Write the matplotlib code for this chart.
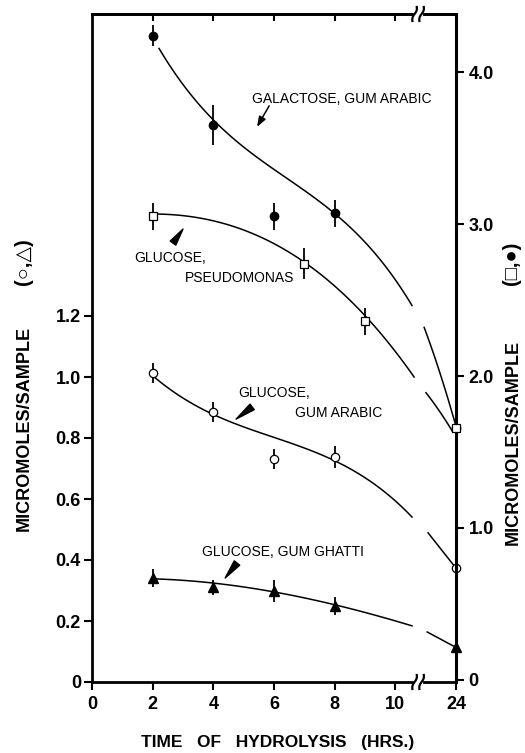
import numpy as np
import matplotlib
matplotlib.use("Agg")
import matplotlib.pyplot as plt
import matplotlib.transforms as mtrans
from matplotlib.lines import Line2D

plt.rcParams['font.family'] = ['Liberation Sans', 'DejaVu Sans']

# ---------------- data ----------------
# sampling times (hours); 24 h sits beyond the axis break
hours = [2, 4, 6, 8, 24]
pseudo_hours = [2, 7, 9, 24]

# right axis (squares, filled circles)
galactose_gum_arabic = [4.24, 3.65, 3.05, 3.07, 1.66]
galactose_err = [0.07, 0.13, 0.09, 0.09, 0.14]
glucose_pseudomonas = [3.05, 2.74, 2.36, 1.66]
pseudomonas_err = [0.09, 0.10, 0.09, 0.10]

# left axis (open circles, triangles)
glucose_gum_arabic = [1.013, 0.885, 0.731, 0.738, 0.374]
gum_arabic_err = [0.033, 0.033, 0.032, 0.036, 0.04]
glucose_gum_ghatti = [0.341, 0.311, 0.298, 0.249, 0.115]
gum_ghatti_err = [0.03, 0.025, 0.035, 0.03, 0.03]

# hand-drawn fitted curves (axis position, value);
# each curve is drawn in two pieces, interrupted near the axis break
gal_curve_a_x = [2.21, 3.1, 4.0, 5.3, 6.9, 8.1, 9.1, 10.55]
gal_curve_a_y = [4.16, 3.89, 3.67, 3.47, 3.24, 3.06, 2.84, 2.47]
gal_curve_b_x = [10.95, 11.47, 11.97]
gal_curve_b_y = [2.32, 2.02, 1.69]

pse_curve_a_x = [2.14, 3.33, 4.65, 6.86, 7.95, 9.07, 10.62]
pse_curve_a_y = [3.07, 3.04, 2.98, 2.78, 2.61, 2.36, 2.00]
pse_curve_b_x = [11.01, 11.45, 11.90]
pse_curve_b_y = [1.89, 1.77, 1.63]

ara_curve_a_x = [2.04, 3.99, 5.77, 7.95, 9.07, 10.55]
ara_curve_a_y = [1.00, 0.882, 0.803, 0.734, 0.662, 0.541]
ara_curve_b_x = [11.08, 11.97]
ara_curve_b_y = [0.489, 0.377]

gha_curve_a_x = [2.04, 3.99, 5.97, 8.08, 9.07, 10.55]
gha_curve_a_y = [0.338, 0.325, 0.295, 0.252, 0.226, 0.184]
gha_curve_b_x = [11.05, 11.97]
gha_curve_b_y = [0.164, 0.115]

x_tick_pos = [0, 2, 4, 6, 8, 10, 12]
x_tick_labels = ["0", "2", "4", "6", "8", "10", "24"]
left_ticks = [0, 0.2, 0.4, 0.6, 0.8, 1.0, 1.2]
left_tick_labels = ["0", "0.2", "0.4", "0.6", "0.8", "1.0", "1.2"]
right_ticks = [0, 1, 2, 3, 4]
right_tick_labels = ["0", "1.0", "2.0", "3.0", "4.0"]


def axis_pos(h):
    """Broken time axis: 0-10 h linear, 24 h placed at position 12."""
    return [v if v <= 10.8 else 12 for v in h]


def smooth(xs, ys, n=80):
    """Smooth drawn line through the read curve points (rendering only)."""
    xs = np.asarray(xs, float)
    ys = np.asarray(ys, float)
    deg = min(3, len(xs) - 1)
    c = np.polyfit(xs, ys, deg)
    xx = np.linspace(xs[0], xs[-1], n)
    return xx, np.polyval(c, xx)


# ---------------- figure ----------------
W, H = 525, 753
fig = plt.figure(figsize=(W / 100, H / 100), dpi=100)
ax = fig.add_axes([92 / W, 1 - 682 / H, (456 - 92) / W, (682 - 14) / H])
ax2 = ax.twinx()

ax.set_xlim(0, 12)
ax.set_ylim(0, 668 / 305)
ax2.set_ylim(-2 / 152, 666 / 152)

lw_curve = 1.1
for cx, cy in [(gal_curve_a_x, gal_curve_a_y), (gal_curve_b_x, gal_curve_b_y),
               (pse_curve_a_x, pse_curve_a_y), (pse_curve_b_x, pse_curve_b_y)]:
    sx, sy = smooth(cx, cy)
    ax2.plot(sx, sy, color='black', lw=lw_curve, clip_on=False)
for cx, cy in [(ara_curve_a_x, ara_curve_a_y), (ara_curve_b_x, ara_curve_b_y),
               (gha_curve_a_x, gha_curve_a_y), (gha_curve_b_x, gha_curve_b_y)]:
    sx, sy = smooth(cx, cy)
    ax.plot(sx, sy, color='black', lw=lw_curve, clip_on=False)

# points with error bars
eb = dict(ecolor='black', elinewidth=1.3, capsize=0, ls='none', clip_on=False)
ax2.errorbar(axis_pos(hours), galactose_gum_arabic, yerr=galactose_err,
             fmt='o', mfc='black', mec='black', ms=6, zorder=5, **eb)
ax2.errorbar(axis_pos(pseudo_hours), glucose_pseudomonas, yerr=pseudomonas_err,
             fmt='s', mfc='white', mec='black', mew=0.9, ms=5.5, zorder=5, **eb)
ax.errorbar(axis_pos(hours), glucose_gum_arabic, yerr=gum_arabic_err,
            fmt='o', mfc='white', mec='black', mew=0.9, ms=6, zorder=5, **eb)
ax.errorbar(axis_pos(hours), glucose_gum_ghatti, yerr=gum_ghatti_err,
            fmt='^', mfc='black', mec='black', ms=6.5, zorder=5, **eb)

# spines / ticks
for s in ['left', 'bottom', 'top']:
    ax.spines[s].set_linewidth(2.0)
ax.spines['right'].set_visible(False)
for s in ['left', 'bottom', 'top']:
    ax2.spines[s].set_visible(False)
ax2.spines['right'].set_linewidth(2.2)

tick_font = dict(size=13, weight='bold')
ax.set_xticks(x_tick_pos)
ax.set_xticklabels(x_tick_labels, fontdict=tick_font)
ax.set_yticks(left_ticks)
ax.set_yticklabels(left_tick_labels, fontdict=tick_font)
ax2.set_yticks(right_ticks)
ax2.set_yticklabels(right_tick_labels, fontdict=tick_font)
ax.tick_params(axis='x', direction='out', length=6, width=1.5, pad=4)
ax.tick_params(axis='y', direction='out', length=6, width=1.5, pad=2)
ax2.tick_params(axis='y', direction='out', length=6, width=1.5, pad=3)

sec = ax.secondary_xaxis('top')
sec.set_xticks([2, 4, 6, 8, 10])
sec.set_xticklabels([])
sec.tick_params(direction='in', length=5, width=1.5)
sec.spines['top'].set_linewidth(2.0)

# axis break marks (top and bottom spines)
xb = 10.75
base = mtrans.blended_transform_factory(ax.transData, ax.transAxes)
inv = fig.transFigure.inverted()
for yax in (0.0, 1.0):
    p0 = base.transform((xb, yax))
    gl = inv.transform(p0 + np.array([-2.5, 0]))
    gr = inv.transform(p0 + np.array([2.5, 0]))
    fig.add_artist(Line2D([gl[0], gr[0]], [gl[1], gr[1]], color='white',
                          lw=3, transform=fig.transFigure, zorder=9))
    t = np.linspace(-1, 1, 20)
    for dx in (-3.5, 3.5):
        offx = dx + 2.2 * t + 0.9 * np.sin(np.pi * t)
        offy = 7 * t
        pts = inv.transform(np.column_stack([p0[0] + offx, p0[1] + offy]))
        fig.add_artist(Line2D(pts[:, 0], pts[:, 1], color='black', lw=1.6,
                              transform=fig.transFigure, zorder=10))

# axis labels
lab = dict(rotation=90, ha='center', va='center', fontsize=13, weight='bold')
sym = dict(rotation=90, ha='center', va='center', fontsize=14.5, weight='bold')
fig.text(24 / W, 1 - 428 / H, "MICROMOLES/SAMPLE", **lab)
fig.text(24 / W, 1 - 262 / H, "(○,△)", **sym)
fig.text(513 / W, 1 - 442 / H, "MICROMOLES/SAMPLE", **lab)
fig.text(511 / W, 1 - 263 / H, "(□,●)", **sym)
fig.text(278 / W, 1 - 743 / H, "TIME   OF   HYDROLYSIS   (HRS.)", ha='center',
         va='center', fontsize=12.5, weight='bold')

# annotations
af = dict(fontsize=10)
wedge = dict(arrowstyle='wedge,tail_width=0.5,shrink_factor=0.5',
             color='black', shrinkA=0, shrinkB=0)
ax.text(8.24, 1.911, "GALACTOSE, GUM ARABIC", ha='center', va='center', **af)
ax.annotate("", xy=(5.44, 1.820), xytext=(5.84, 1.889),
            arrowprops=dict(arrowstyle='-|>,head_length=0.6,head_width=0.22',
                            color='black', lw=1.1, shrinkA=0, shrinkB=0))
ax.text(1.38, 1.390, "GLUCOSE,", ha='left', va='center', **af)
ax.text(3.07, 1.325, "PSEUDOMONAS", ha='left', va='center', **af)
ax.annotate("", xy=(3.0, 1.485), xytext=(2.67, 1.439), arrowprops=wedge)
ax.text(4.81, 0.948, "GLUCOSE,", ha='left', va='center', **af)
ax.text(6.69, 0.882, "GUM ARABIC", ha='left', va='center', **af)
ax.annotate("", xy=(4.75, 0.862), xytext=(5.28, 0.902), arrowprops=wedge)
ax.text(3.63, 0.426, "GLUCOSE, GUM GHATTI", ha='left', va='center', **af)
ax.annotate("", xy=(4.39, 0.341), xytext=(4.78, 0.390), arrowprops=wedge)

fig.savefig("out.png", dpi=100)
